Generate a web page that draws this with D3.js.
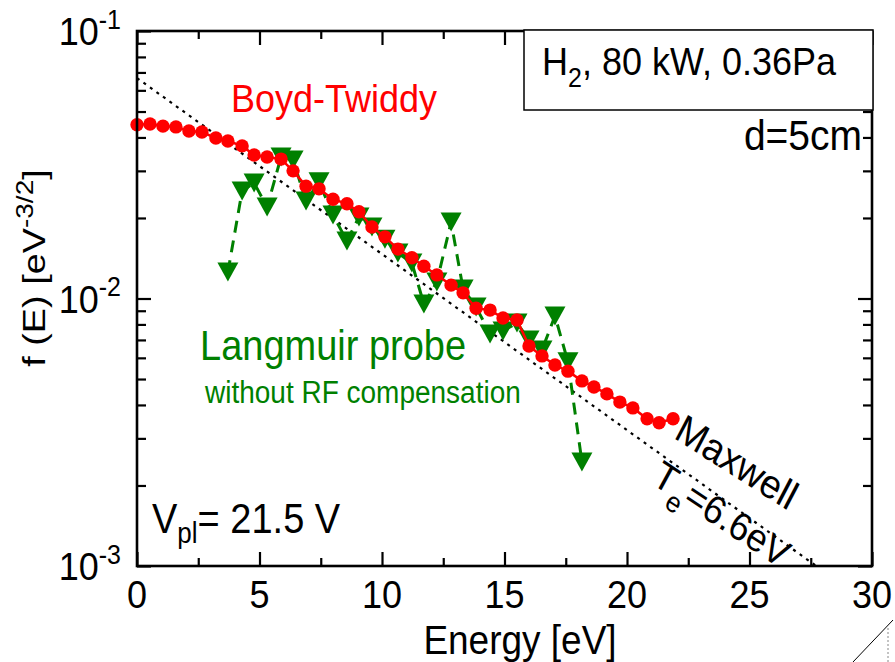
<!DOCTYPE html>
<html>
<head>
<meta charset="utf-8">
<script src="https://cdn.jsdelivr.net/npm/d3@7"></script>
<style>
  body { margin: 0; background: #fff; }
  svg { display: block; }
  text { font-family: "Liberation Sans", Arial, sans-serif; }
</style>
</head>
<body>
<svg id="chart" width="895" height="662"></svg>
<script>
// Electron energy probability function, H2 plasma, 80 kW, 0.36 Pa, d = 5 cm
const boydEnergy = [0, 0.53, 1.06, 1.59, 2.12, 2.65, 3.22, 3.71, 4.29, 4.78, 5.31, 5.88, 6.37, 6.90,
  7.43, 8.00, 8.57, 9.06, 9.59, 10.12, 10.65, 11.22, 11.71, 12.24, 12.82, 13.31, 13.84, 14.41,
  14.94, 15.51, 16.00, 16.53, 17.06, 17.59, 18.16, 18.65, 19.18, 19.71, 20.24, 20.82, 21.31, 21.88];
const boydEepf = [0.0446, 0.0449, 0.0441, 0.0438, 0.0423, 0.0419, 0.0398, 0.0388, 0.0372, 0.0344,
  0.0338, 0.0332, 0.0300, 0.0263, 0.0257, 0.0235, 0.0226, 0.0211, 0.0185, 0.0170, 0.0153, 0.0142,
  0.0132, 0.01225, 0.01122, 0.0105, 0.0092, 0.00905, 0.00845, 0.00831, 0.00664, 0.0061, 0.00564,
  0.00535, 0.00492, 0.00467, 0.0044, 0.0041, 0.0039, 0.00355, 0.00343, 0.00355];

const probeEnergy = [3.71, 4.29, 4.78, 5.31, 5.88, 6.37, 6.90, 7.43, 8.00, 8.57, 9.06, 9.59, 10.12,
  10.65, 11.22, 11.71, 12.24, 12.82, 13.31, 13.84, 14.41, 14.94, 15.51, 16.00, 16.53, 17.06, 17.59, 18.16];
const probeEepf = [0.01256, 0.02522, 0.02703, 0.02198, 0.03381, 0.03296, 0.02313, 0.02729, 0.02050,
  0.01640, 0.02017, 0.01850, 0.01667, 0.01479, 0.01358, 0.00953, 0.01153, 0.01931, 0.01086, 0.00930,
  0.00737, 0.00756, 0.00810, 0.00700, 0.00642, 0.00861, 0.00580, 0.00245];

// Maxwellian reference: f(E) = f0 * exp(-E / Te)
const maxwellTe = 6.6;
const maxwellF0 = 0.0667;

const xMajorTicks = [0, 5, 10, 15, 20, 25, 30];
const xMinorTicks = [2.5, 7.5, 12.5, 17.5, 22.5, 27.5];
const yDecadeExponents = [-3, -2, -1];

const svg = d3.select("#chart");
const plotL = 137, plotR = 872, plotT = 31, plotB = 566;
const stretch = 1.1;   // glyphs are drawn slightly taller than wide

const x = d3.scaleLinear().domain([0, 30]).range([plotL, plotR]);
const y = d3.scaleLog().domain([1e-3, 1e-1]).range([plotB, plotT]);

const yMajor = yDecadeExponents.map(e => Math.pow(10, e));
const yMinor = [];
yDecadeExponents.slice(0, -1).forEach(e => {
  for (let m = 2; m <= 9; m++) yMinor.push(m * Math.pow(10, e));
});

// text helper: positioned at (tx, ty), optionally rotated, vertically stretched
function addText(parent, tx, ty, size, opts = {}) {
  const rot = opts.rotate ? ` rotate(${opts.rotate})` : "";
  const t = parent.append("text")
    .attr("transform", `translate(${tx},${ty}) scale(1,${stretch})${rot}`)
    .attr("font-size", size)
    .attr("fill", opts.fill || "#000")
    .attr("text-anchor", opts.anchor || "start");
  if (opts.dy) t.attr("dy", opts.dy);
  if (opts.text !== undefined) t.text(opts.text);
  return t;
}

svg.append("defs").append("clipPath").attr("id", "plot-clip")
  .append("rect").attr("x", plotL).attr("y", plotT)
  .attr("width", plotR - plotL).attr("height", plotB - plotT);

// Maxwellian line
const maxwellEnd = maxwellTe * Math.log(maxwellF0 / 1e-3);
svg.append("line")
  .attr("clip-path", "url(#plot-clip)")
  .attr("x1", x(0)).attr("y1", y(maxwellF0))
  .attr("x2", x(maxwellEnd)).attr("y2", y(maxwellF0 * Math.exp(-maxwellEnd / maxwellTe)))
  .attr("stroke", "#000").attr("stroke-width", 2.2).attr("stroke-dasharray", "3,5");

// Langmuir probe series
const green = "#008000";
const probePts = probeEnergy.map((e, i) => [e, probeEepf[i]]);
svg.append("path")
  .attr("d", d3.line().x(d => x(d[0])).y(d => y(d[1]))(probePts))
  .attr("fill", "none").attr("stroke", green).attr("stroke-width", 3)
  .attr("stroke-dasharray", "12,8");
svg.append("g").selectAll("path").data(probePts).join("path")
  .attr("d", d => {
    const cx = x(d[0]), cy = y(d[1]);
    return `M${cx - 10.5},${cy - 9.5}L${cx + 10.5},${cy - 9.5}L${cx},${cy + 9.5}Z`;
  })
  .attr("fill", green);

// Boyd-Twiddy series
const red = "#ff0000";
const boydPts = boydEnergy.map((e, i) => [e, boydEepf[i]]);
svg.append("path")
  .attr("d", d3.line().x(d => x(d[0])).y(d => y(d[1]))(boydPts))
  .attr("fill", "none").attr("stroke", red).attr("stroke-width", 2.5);
svg.append("g").selectAll("circle").data(boydPts).join("circle")
  .attr("cx", d => x(d[0])).attr("cy", d => y(d[1])).attr("r", 6.7)
  .attr("fill", red);

// Axes (ticks point inward on all four sides)
function styleAxis(g) {
  g.select(".domain").remove();
  g.selectAll(".tick line").attr("stroke", "#000").attr("stroke-width", 2.2);
}
function ticks(axis, pos, values, size) {
  svg.append("g").attr("transform", pos)
    .call(axis.tickValues(values).tickSize(-size).tickFormat(""))
    .call(styleAxis);
}
ticks(d3.axisBottom(x), `translate(0,${plotB})`, xMajorTicks, 14);
ticks(d3.axisBottom(x), `translate(0,${plotB})`, xMinorTicks, 8);
ticks(d3.axisTop(x), `translate(0,${plotT})`, xMajorTicks, 14);
ticks(d3.axisTop(x), `translate(0,${plotT})`, xMinorTicks, 8);
ticks(d3.axisLeft(y), `translate(${plotL},0)`, yMajor, 14);
ticks(d3.axisLeft(y), `translate(${plotL},0)`, yMinor, 9);
ticks(d3.axisRight(y), `translate(${plotR},0)`, yMajor, 14);
ticks(d3.axisRight(y), `translate(${plotR},0)`, yMinor, 9);

svg.append("rect").attr("x", plotL).attr("y", plotT)
  .attr("width", plotR - plotL).attr("height", plotB - plotT)
  .attr("fill", "none").attr("stroke", "#000").attr("stroke-width", 2.6);

// x tick labels
const labels = svg.append("g");
xMajorTicks.forEach(v => addText(labels, x(v), 608, 36, { anchor: "middle", text: String(v) }));

// y tick labels as powers of ten
yDecadeExponents.forEach(e => {
  const t = addText(labels, 121, y(Math.pow(10, e)) + 14, 36, { anchor: "end" });
  t.append("tspan").text("10");
  t.append("tspan").attr("font-size", 25).attr("dy", -15).text(String(e));
});

// Axis titles
addText(svg, 520, 654, 37, { anchor: "middle", text: "Energy [eV]" });
const yTitle = svg.append("text")
  .attr("transform", "translate(45,268) rotate(-90) scale(1.22,1)")
  .attr("text-anchor", "middle").attr("font-size", 31);
yTitle.append("tspan").text("f (E) [eV");
yTitle.append("tspan").attr("font-size", 23).attr("dy", -12).text("-3/2");
yTitle.append("tspan").attr("dy", 12).text("]");

// Annotations
addText(svg, 231, 112, 36, { fill: red, text: "Boyd-Twiddy" });
addText(svg, 200, 360, 38, { fill: green, text: "Langmuir probe" });
addText(svg, 205, 403, 28, { fill: green, text: "without RF compensation" });

const vpl = addText(svg, 152, 533, 38);
vpl.append("tspan").text("V");
vpl.append("tspan").attr("font-size", 26).attr("dy", 9).text("pl");
vpl.append("tspan").attr("dy", -9).text("= 21.5 V");

// Condition box
svg.append("rect").attr("x", 524).attr("y", 30).attr("width", 349).attr("height", 80)
  .attr("fill", "#fff").attr("stroke", "#000").attr("stroke-width", 1.5);
const cond = addText(svg, 542, 75, 36);
cond.append("tspan").text("H");
cond.append("tspan").attr("font-size", 25).attr("dy", 11).text("2");
cond.append("tspan").attr("dy", -11).text(", 80 kW, 0.36Pa");

addText(svg, 862, 150, 39, { anchor: "end", text: "d=5cm" });

// Maxwell labels along the line
addText(svg, 737, 462, 37, { anchor: "middle", rotate: 30, dy: "0.35em", text: "Maxwell" });
const te = addText(svg, 722, 514, 36, { anchor: "middle", rotate: 31, dy: "0.35em" });
te.append("tspan").text("T");
te.append("tspan").attr("font-size", 26).attr("dy", 12).text("e");
te.append("tspan").attr("dy", -12).text("=6.6eV");

// Corner grip
svg.append("line").attr("x1", 853).attr("y1", 662).attr("x2", 893).attr("y2", 620)
  .attr("stroke", "#000").attr("stroke-width", 1);
svg.append("line").attr("x1", 888).attr("y1", 628).attr("x2", 888).attr("y2", 662)
  .attr("stroke", "#888").attr("stroke-width", 1).attr("stroke-dasharray", "2,2");
</script>
</body>
</html>
